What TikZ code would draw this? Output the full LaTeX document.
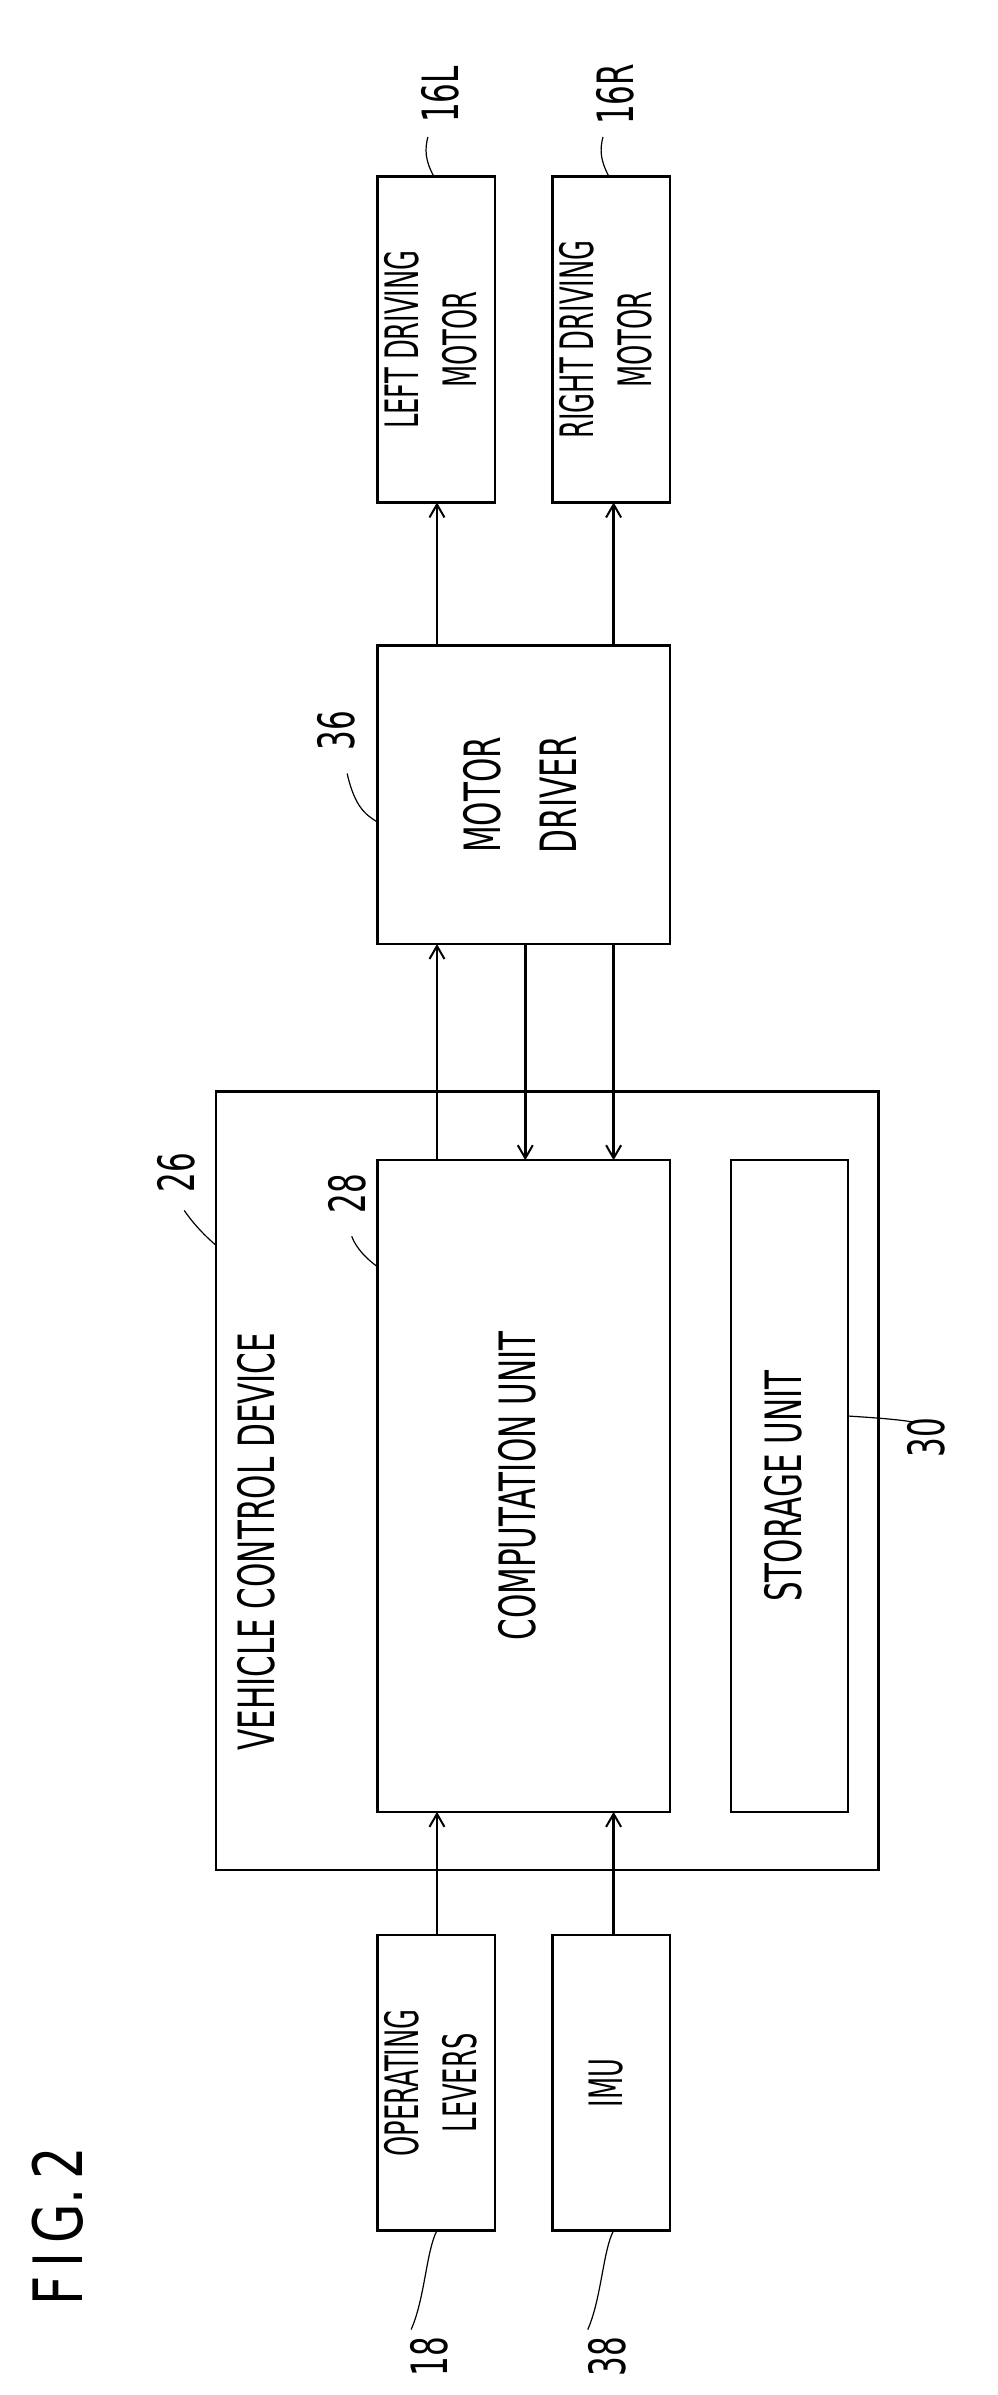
\documentclass[tikz,border=0pt]{standalone}
\usepackage{fontspec}
\setmainfont{DejaVu Sans}
\usetikzlibrary{arrows.meta}
\newcommand\cond[2][61]{\scalebox{0.62}[1]{\fontsize{50}{#1}\selectfont\begin{tabular}{@{}c@{}}#2\end{tabular}}}
\newcommand\condS[1]{\scalebox{0.56}[1]{\fontsize{46}{58}\selectfont\begin{tabular}{@{}c@{}}#1\end{tabular}}}
\begin{document}
\begin{tikzpicture}[x=1.522pt,y=-1.522pt,
  box/.style={draw,line width=2.4pt,inner sep=0pt},
  txt/.style={rotate=90,inner sep=0pt},
  arr/.style={line width=2.6pt,-{Straight Barb[length=13pt,width=15pt,line width=2pt]}},
  lead/.style={line width=1.2pt},
  num/.style={rotate=90,inner sep=1pt}]
\useasboundingbox (0,0) rectangle (655,1573);
% boxes
\draw[box] (248,116) rectangle (325,330);
\node[txt] (lm) at (286.5,223) {\condS{LEFT DRIVING\\MOTOR}};
\draw[box] (363,116) rectangle (440,330);
\node[txt] (rm) at (401.5,223) {\condS{RIGHT DRIVING\\MOTOR}};
\draw[box] (248,424) rectangle (440,620);
\node[txt] (md) at (344,522) {\cond[76]{MOTOR\\DRIVER}};
\draw[box] (142,717) rectangle (577,1228);
\node[txt,anchor=west] (vcd) at (172,1150) {\cond{VEHICLE CONTROL DEVICE}};
\draw[box] (248,762) rectangle (440,1190);
\node[txt] (cu) at (344,976) {\cond{COMPUTATION UNIT}};
\draw[box] (480,762) rectangle (557,1190);
\node[txt] (su) at (518.5,976) {\cond{STORAGE UNIT}};
\draw[box] (248,1271) rectangle (325,1465);
\node[txt] (ol) at (286.5,1368) {\condS{OPERATING\\LEVERS}};
\draw[box] (363,1271) rectangle (440,1465);
\node[txt] (imu) at (401.5,1368) {\condS{IMU}};
% arrows
\draw[arr] (287,424) -- (287,330);
\draw[arr] (403,424) -- (403,330);
\draw[arr] (287,762) -- (287,620);
\draw[arr] (345,620) -- (345,762);
\draw[arr] (403,620) -- (403,762);
\draw[arr] (287,1271) -- (287,1190);
\draw[arr] (403,1271) -- (403,1190);
% labels
\node[num] (n16L) at (293,62) {\cond{16L}};
\draw[lead] (285,116) .. controls (279,105) and (279,98) .. (281,90);
\node[num] (n16R) at (408,62) {\cond{16R}};
\draw[lead] (400,116) .. controls (394,105) and (394,98) .. (396,90);
\node[num] (n36) at (225,480) {\cond{36}};
\draw[lead] (248,540) .. controls (240,535) and (233,530) .. (228,508);
\node[num] (n26) at (120,770) {\cond{26}};
\draw[lead] (142,818) .. controls (135,812) and (128,805) .. (121,795);
\node[num] (n28) at (232,784) {\cond{28}};
\draw[lead] (248,832) .. controls (241,827) and (234,820) .. (231,812);
\node[num] (n30) at (612,944) {\cond{30}};
\draw[lead] (557,930) .. controls (572,931) and (588,932) .. (600,934);
\node[num] (n18) at (286,1548) {\cond{18}};
\draw[lead] (287,1465) .. controls (280,1478) and (279,1510) .. (270,1530);
\node[num] (n38) at (403,1548) {\cond{38}};
\draw[lead] (403,1465) .. controls (396,1478) and (395,1510) .. (386,1530);
\node[num] (fig) at (38,1462) {\scalebox{0.75}[1]{\fontsize{68}{70}\selectfont F\,I\,G.\,2}};
\end{tikzpicture}
\end{document}
